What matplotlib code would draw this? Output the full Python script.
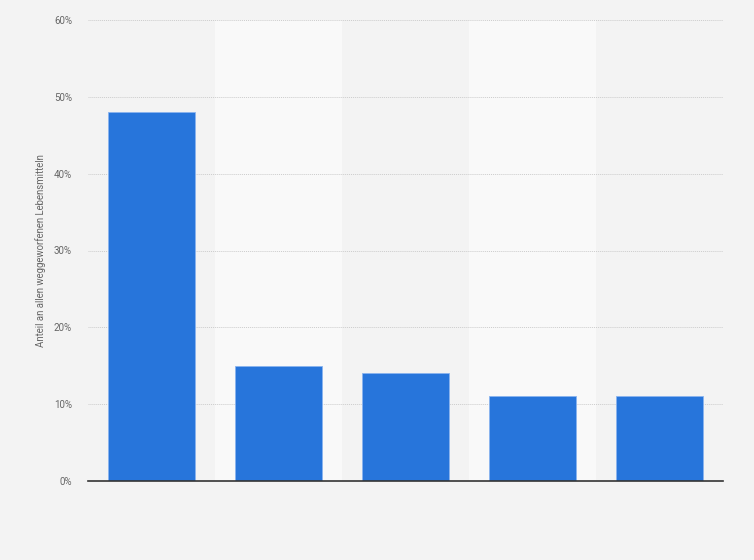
import numpy as np
import matplotlib.pyplot as plt
from matplotlib.ticker import FuncFormatter

plt.rcParams["font.family"] = ["Roboto", "DejaVu Sans"]

# values (category labels are not shown in the reference)
categories = ["", "", "", "", ""]
shares = [48, 15, 14, 11, 11]
y_ticks = [0, 10, 20, 30, 40, 50, 60]

bg = "#f3f3f3"
band = "#f9f9f9"
bar_color = "#2775db"

fig = plt.figure(figsize=(7.54, 5.60), dpi=100, facecolor=bg)
ax = fig.add_axes([88 / 754, 79 / 560, 635 / 754, 461 / 560])
ax.set_facecolor(bg)

x = np.arange(len(shares))
for i in x:
    if i % 2 == 1:
        ax.axvspan(i - 0.5, i + 0.5, color=band, zorder=0, lw=0)

ax.bar(x, shares, width=0.69, color=bar_color, edgecolor="#8ab4ef",
       linewidth=0.6, zorder=3)

ax.set_xlim(-0.5, len(shares) - 0.5)
ax.set_ylim(0, 60)
ax.set_yticks(y_ticks)
ax.yaxis.set_major_formatter(FuncFormatter(lambda v, _: f"{v:.0f}%"))
ax.set_xticks(x)
ax.set_xticklabels(categories)
ax.tick_params(axis="both", length=0, labelsize=7, colors="#666666", pad=11.5)
ax.tick_params(axis="x", pad=4)

ax.grid(axis="y", color="#cccccc", linestyle=(0, (1, 1)), linewidth=0.7, zorder=1)
for s in ["top", "right", "left"]:
    ax.spines[s].set_visible(False)
ax.spines["bottom"].set_color("#333333")
ax.spines["bottom"].set_linewidth(1.2)
ax.spines["bottom"].set_zorder(4)

ax.set_ylabel("Anteil an allen weggeworfenen Lebensmitteln", fontsize=6.9,
              color="#666666")
ax.yaxis.set_label_coords(-42 / 635, 0.5)

fig.savefig("out.png", dpi=100, facecolor=bg)
